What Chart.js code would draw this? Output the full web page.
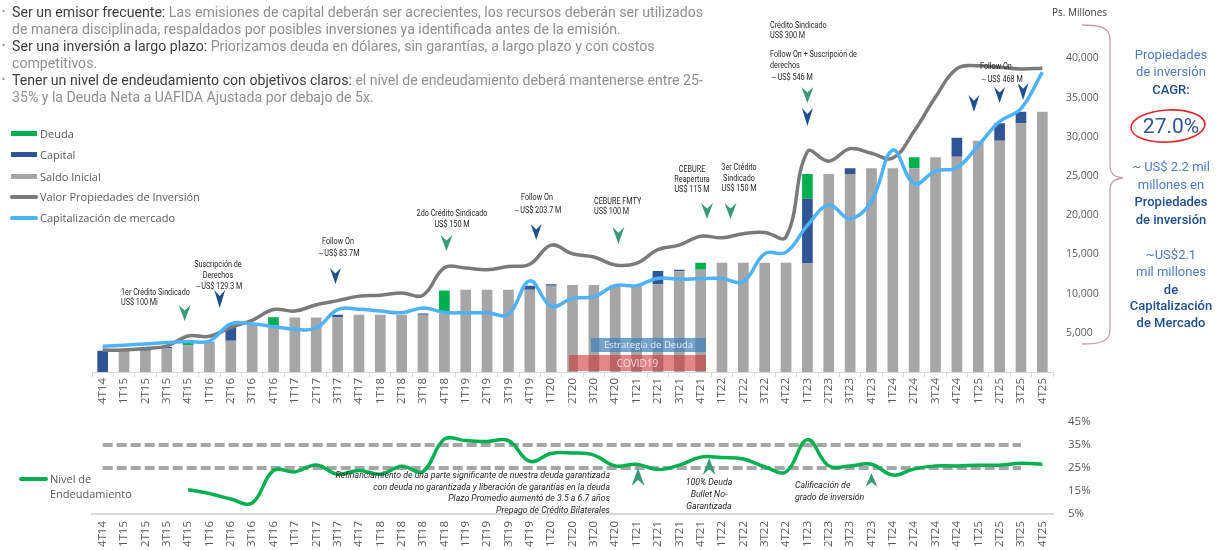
<!DOCTYPE html>
<html><head><meta charset="utf-8">
<script src="https://cdn.jsdelivr.net/npm/chart.js@4.4.1/dist/chart.umd.min.js"></script>
<style>
html,body{margin:0;padding:0;background:#fff;}
#wrap{position:relative;width:1220px;height:550px;overflow:hidden;font-family:'Open Sans',sans-serif;}
canvas{position:absolute;left:0;}
#cTop{top:0;}
#cBot{top:400px;}
.abs{position:absolute;white-space:nowrap;}
.tl{position:absolute;left:12px;font:14px Roboto,sans-serif;color:#8f8f8f;white-space:nowrap;transform-origin:0 50%;line-height:16px;}
.tl span{color:#3d3d3d;}
.bul{position:absolute;left:2px;font:10px Roboto,sans-serif;color:#8f8f8f;line-height:16px;}
.leg{position:absolute;left:40px;font:11px 'Open Sans',sans-serif;color:#595959;line-height:14px;white-space:nowrap;}
.sw{position:absolute;left:11px;width:26px;height:5px;}
.swl{position:absolute;left:10px;width:28px;height:4px;border-radius:2px;}
.ann{font:8.5px Roboto,sans-serif;color:#262626;}
.annb{font:italic 9px Roboto,sans-serif;color:#262626;}
.rp{position:absolute;left:1111px;width:120px;text-align:center;font:13px Roboto,sans-serif;white-space:nowrap;line-height:17px;}
.lt{color:#4a7cc0;}
.dk{color:#1f4e8c;font-weight:500;}
</style></head>
<body><div id="wrap">
<canvas id="cTop" width="1110" height="412"></canvas>
<canvas id="cBot" width="1110" height="150"></canvas>

<div class="bul" style="top:4px">&#8226;</div>
<div class="tl" style="top:4px"><span>Ser un emisor frecuente:</span> Las emisiones de capital deberán ser acrecientes, los recursos deberán ser utilizados</div>
<div class="tl" style="top:21px">de manera disciplinada, respaldados por posibles inversiones ya identificada antes de la emisión.</div>
<div class="bul" style="top:38px">&#8226;</div>
<div class="tl" style="top:38px"><span>Ser una inversión a largo plazo:</span> Priorizamos deuda en dólares, sin garantías, a largo plazo y con costos</div>
<div class="tl" style="top:55px">competitivos.</div>
<div class="bul" style="top:72px">&#8226;</div>
<div class="tl" style="top:72px"><span>Tener un nivel de endeudamiento con objetivos claros:</span> el nivel de endeudamiento deberá mantenerse entre 25-</div>
<div class="tl" style="top:89px">35% y la Deuda Neta a UAFIDA Ajustada por debajo de 5x.</div>

<div class="sw" style="top:131px;background:#00b050"></div><div class="leg" style="top:127px">Deuda</div>
<div class="sw" style="top:152px;background:#2f5597"></div><div class="leg" style="top:148px">Capital</div>
<div class="sw" style="top:174px;background:#a6a6a6"></div><div class="leg" style="top:169.5px">Saldo Inicial</div>
<div class="swl" style="top:195px;background:#7a7a7a"></div><div class="leg" style="top:190px">Valor Propiedades de Inversión</div>
<div class="swl" style="top:216px;background:#4db2f7"></div><div class="leg" style="top:211px">Capitalización de mercado</div>

<div class="abs" style="left:1052px;top:5px;font:10px 'Open Sans',sans-serif;color:#404040">Ps. Millones</div>

<div class="abs" style="left:591px;top:338px;width:115px;height:14px;background:rgba(62,128,186,0.72);color:#e6eef6;font:9.5px 'Open Sans',sans-serif;text-align:center;line-height:14px">Estrategia de Deuda</div>
<div class="abs" style="left:569px;top:355px;width:137px;height:16px;background:rgba(205,55,55,0.6);color:#f7dede;font:10px 'Open Sans',sans-serif;text-align:center;line-height:16px">COVID19</div>

<svg class="abs" style="left:0;top:0" width="1220" height="550">
<path d="M1082,25 C1100,25 1110,27 1110,40 L1110,165 C1110,174 1114,177 1123,178 C1114,179 1110,182 1110,191 L1110,330 C1110,342 1100,344 1082,344" fill="none" stroke="#c4a3ab" stroke-width="1.3"/>
<ellipse cx="1168" cy="126" rx="37" ry="16" fill="none" stroke="#e3262b" stroke-width="1.6" transform="rotate(-3 1168 126)"/>
</svg>

<div class="rp lt" style="top:46px">Propiedades</div>
<div class="rp lt" style="top:63px">de inversión</div>
<div class="rp dk" style="top:81px">CAGR:</div>
<div class="rp" style="top:112px;font-size:21px;line-height:28px;color:#2f5597">27.0%</div>
<div class="rp lt" style="top:158px">~ US$ 2.2 mil</div>
<div class="rp lt" style="top:176px">millones en</div>
<div class="rp dk" style="top:193px">Propiedades</div>
<div class="rp dk" style="top:211px">de inversión</div>
<div class="rp lt" style="top:246px">~US$2.1</div>
<div class="rp lt" style="top:263px">mil millones</div>
<div class="rp dk" style="top:281px">de</div>
<div class="rp dk" style="top:297px">Capitalización</div>
<div class="rp dk" style="top:314px">de Mercado</div>

<div class="swl" style="left:19px;top:477px;width:29px;height:4px;background:#00b050"></div>
<div class="leg" style="left:50px;top:472px">Nivel de</div>
<div class="leg" style="left:50px;top:487px">Endeudamiento</div>
</div>

<script>
// ---------- DATA ----------
const categories = ['4T14','1T15','2T15','3T15','4T15','1T16','2T16','3T16','4T16','1T17','2T17','3T17','4T17','1T18','2T18','3T18','4T18','1T19','2T19','3T19','4T19','1T20','2T20','3T20','4T20','1T21','2T21','3T21','4T21','1T22','2T22','3T22','4T22','1T23','2T23','3T23','4T23','1T24','2T24','3T24','4T24','1T25','2T25','3T25','4T25'];
const saldoInicial = [0,2800,2700,3000,3400,3900,4000,6150,6000,6950,6950,7000,7300,7300,7300,7300,7500,10500,10500,10500,10500,11000,11100,11100,11100,11100,11200,12850,13050,13950,13950,13950,13950,13900,25250,25250,26000,26000,26000,27400,27450,29500,29500,31750,33200];
const capital = [2700,0,200,200,0,0,2000,0,0,0,0,300,0,0,0,150,0,0,0,0,500,200,0,0,0,0,1700,200,0,0,0,0,0,8200,0,750,0,0,0,0,2450,0,2250,1450,0];
const deuda = [0,0,0,0,500,0,0,0,1000,0,0,0,0,0,0,0,2900,0,0,0,0,0,0,0,0,0,0,0,900,0,0,0,0,3150,0,0,0,0,1400,0,0,0,0,0,0];
const valorPropiedades = [2800,2800,3000,3300,4600,4550,5700,6600,7970,7770,8580,9110,9680,9800,10090,9800,13300,13260,13050,13450,13750,16190,15090,14680,13660,13870,15620,16190,17320,17120,17650,17810,17240,28100,26900,28500,27900,27300,30740,35100,38700,39080,38880,38670,38760];
const capitalizacion = [3300,3420,3580,3750,3900,3950,6140,6140,5800,5450,5610,7970,8000,7770,7560,8170,7600,7560,7560,7360,11630,8380,9390,9600,11020,11020,11960,11830,11920,11920,11550,15090,15290,18700,21300,19560,21800,28300,24030,25650,26070,28900,31960,33590,38270];
const endeudamiento = [null,null,null,null,15.5,13.9,11.5,9.8,23.9,23.3,26.3,22.3,23.9,22.3,25.7,23.5,37.5,36.9,36.5,36.9,27.9,31.3,31.5,30.6,25.9,26.6,24.3,26.2,29.7,29.5,28.9,25.5,23.3,37.3,25.9,25.9,26.6,21.9,24.6,25.9,25.9,26.2,26.2,27.0,26.6];
const limiteSuperior = [35,35,35,35,35,35,35,35,35,35,35,35,35,35,35,35,35,35,35,35,35,35,35,35,35,35,35,35,35,35,35,35,35,35,35,35,35,35,35,35,35,35,35,35,null];
const limiteInferior = [25,25,25,25,25,25,25,25,25,25,25,25,25,25,25,25,25,25,25,25,25,25,25,25,25,25,25,25,25,25,25,25,25,25,25,25,25,25,25,25,25,25,25,25,null];
const ticksMillones = [5000,10000,15000,20000,25000,30000,35000,40000];
const ticksPct = [5,15,25,35,45];

// ---------- fit the top paragraph width ----------
(function(){
  const lines = document.querySelectorAll('.tl');
  const w0 = lines[0].getBoundingClientRect().width;
  const s = 691 / w0;
  lines.forEach(l => l.style.transform = 'scaleX(' + s + ')');
})();

// ---------- annotation texts ----------
const wrap = document.getElementById('wrap');
function lbl(lines, x, top, align, lh, cls, sx){
  const d = document.createElement('div');
  d.className = 'abs ' + cls;
  d.style.left = x + 'px'; d.style.top = top + 'px';
  d.style.lineHeight = lh + 'px';
  d.style.textAlign = align === 'l' ? 'left' : (align === 'c' ? 'center' : 'right');
  d.innerHTML = lines.join('<br>');
  if (align === 'l') { d.style.transformOrigin = '0 0'; d.style.transform = 'scaleX(' + sx + ')'; }
  else if (align === 'c') { d.style.transformOrigin = '50% 0'; d.style.transform = 'translateX(-50%) scaleX(' + sx + ')'; }
  else { d.style.transformOrigin = '100% 0'; d.style.transform = 'translateX(-100%) scaleX(' + sx + ')'; }
  wrap.appendChild(d);
}
const S = 0.85;
lbl(['1er Crédito Sindicado','US$ 100 Mi'], 121, 286.5, 'l', 10, 'ann', S);
lbl(['Suscripción de','Derechos','～US$ 129.3 M'], 218, 258.5, 'c', 11, 'ann', S);
lbl(['Follow On','～US$ 83.7M'], 338, 235, 'c', 12, 'ann', S);
lbl(['2do Crédito Sindicado','US$ 150 M'], 452, 208, 'c', 10.5, 'ann', S);
lbl(['Follow On','～US$ 203.7 M'], 537, 191, 'c', 12.5, 'ann', S);
lbl(['CEBURE FMTY','US$ 100 M'], 594, 195.5, 'l', 10.5, 'ann', S);
lbl(['CEBURE','Reapertura','US$ 115 M'], 692, 164, 'c', 10, 'ann', S);
lbl(['3er Crédito','Sindicado','US$ 150 M'], 739, 162, 'c', 10.5, 'ann', S);
lbl(['Crédito Sindicado','US$ 300 M'], 770, 19.5, 'l', 10, 'ann', S);
lbl(['Follow On + Suscripción de','derechos','～US$ 546 M'], 770, 48.5, 'l', 11.5, 'ann', S);
lbl(['Follow On','～US$ 468 M'], 980, 59.5, 'l', 13, 'ann', S);
lbl(['Refinanciamiento de una parte significante de nuestra deuda garantizada','con deuda no garantizada y liberación de garantías en la deuda','Plazo Promedio aumentó de 3.5 a 6.7 años','Prepago de Crédito Bilaterales'], 610, 470, 'r', 11.5, 'annb', 0.97);
lbl(['100% Deuda','Bullet No-','Garantizada'], 709, 475.5, 'c', 12, 'annb', 0.97);
lbl(['Calificación de','grado de inversión'], 795, 480, 'l', 11.7, 'annb', 0.97);

// ---------- chevrons ----------
const GREEN_CH = '#3a9a78', BLUE_CH = '#1f4e8c';
function chev(ctx, x, y0, h, w, dir, color){
  ctx.beginPath();
  ctx.moveTo(x - w/2, y0);
  ctx.lineTo(x, y0 + dir*h*0.34);
  ctx.lineTo(x + w/2, y0);
  ctx.lineTo(x, y0 + dir*h);
  ctx.closePath();
  ctx.fillStyle = color; ctx.fill();
}
function chevronPlugin(id, list, offsetY){
  return { id, afterDatasetsDraw(chart){
    const xs = chart.scales.x, ctx = chart.ctx;
    const p0 = xs.getPixelForValue(0), step = xs.getPixelForValue(1) - p0;
    ctx.save();
    list.forEach(c => chev(ctx, p0 + c.f*step, c.y - offsetY, c.h, c.w, c.d, c.c));
    ctx.restore();
  }};
}
const topChevrons = [
  {f:3.84,y:305,h:16,w:12,d:1,c:GREEN_CH},
  {f:5.48,y:290,h:18,w:11,d:1,c:BLUE_CH},
  {f:10.9,y:268,h:16,w:11,d:1,c:BLUE_CH},
  {f:16.1,y:235,h:16,w:12,d:1,c:GREEN_CH},
  {f:20.3,y:224,h:16,w:11,d:1,c:BLUE_CH},
  {f:24.15,y:227,h:17,w:12,d:1,c:GREEN_CH},
  {f:28.3,y:203,h:16,w:12,d:1,c:GREEN_CH},
  {f:29.4,y:203,h:16,w:12,d:1,c:GREEN_CH},
  {f:33,y:87,h:16,w:12,d:1,c:GREEN_CH},
  {f:33,y:108,h:18,w:11,d:1,c:BLUE_CH},
  {f:40.8,y:95,h:17,w:11,d:1,c:BLUE_CH},
  {f:42,y:87,h:16,w:11,d:1,c:BLUE_CH},
  {f:43.1,y:83,h:17,w:11,d:1,c:BLUE_CH}
];
const botChevrons = [
  {f:25.07,y:486,h:18,w:13,d:-1,c:GREEN_CH},
  {f:28.4,y:475,h:17,w:13,d:-1,c:GREEN_CH},
  {f:36.0,y:487,h:14,w:12,d:-1,c:GREEN_CH}
];

Chart.defaults.font.family = "'Open Sans', sans-serif";
Chart.defaults.color = '#595959';

const tickFont = {size:11.5, family:"'Open Sans', sans-serif"};

new Chart(document.getElementById('cTop'), {
  type: 'bar',
  data: { labels: categories, datasets: [
    {type:'line', label:'Capitalización de mercado', data:capitalizacion, borderColor:'#4db2f7', borderWidth:3.5, tension:0.4, pointRadius:0, stack:'c', order:0},
    {type:'line', label:'Valor Propiedades de Inversión', data:valorPropiedades, borderColor:'#7a7a7a', borderWidth:3.5, tension:0.4, pointRadius:0, stack:'v', order:1},
    {label:'Saldo Inicial', data:saldoInicial, backgroundColor:'#a6a6a6', stack:'s', order:5, barPercentage:0.5, categoryPercentage:1},
    {label:'Capital', data:capital, backgroundColor:'#2f5597', stack:'s', order:5, barPercentage:0.5, categoryPercentage:1},
    {label:'Deuda', data:deuda, backgroundColor:'#00b050', stack:'s', order:5, barPercentage:0.5, categoryPercentage:1}
  ]},
  options: {
    responsive:false, animation:false, maintainAspectRatio:false,
    layout:{padding:{left:92, top:4, right:0, bottom:0}},
    plugins:{legend:{display:false}, tooltip:{enabled:false}},
    scales:{
      x:{stacked:true, offset:true,
         grid:{offset:true, drawOnChartArea:false, drawTicks:true, tickLength:5, color:'#d9d9d9'},
         border:{color:'#d9d9d9', width:1},
         ticks:{minRotation:90, maxRotation:90, autoSkip:false, font:tickFont, color:'#595959', padding:1},
         afterFit(s){ s.height = 40; }},
      y:{position:'right', stacked:true, min:0, max:45000,
         afterBuildTicks(s){ s.ticks = ticksMillones.map(v => ({value:v})); },
         ticks:{font:{size:10.5}, color:'#595959', padding:13, callback:v => v.toLocaleString('en-US')},
         grid:{display:false, drawTicks:false}, border:{display:false},
         afterFit(s){ s.width = 57; }}
    }
  },
  plugins:[chevronPlugin('chevTop', topChevrons, 0)]
});

new Chart(document.getElementById('cBot'), {
  type: 'line',
  data: { labels: categories, datasets: [
    {label:'Nivel de Endeudamiento', data:endeudamiento, borderColor:'#00b050', borderWidth:3.5, tension:0.4, pointRadius:0, order:0},
    {label:'35%', data:limiteSuperior, borderColor:'#a6a6a6', borderWidth:4, borderDash:[10,4], pointRadius:0, order:1},
    {label:'25%', data:limiteInferior, borderColor:'#a6a6a6', borderWidth:4, borderDash:[10,4], pointRadius:0, order:1}
  ]},
  options: {
    responsive:false, animation:false, maintainAspectRatio:false,
    layout:{padding:{left:92, top:14, right:0, bottom:0}},
    plugins:{legend:{display:false}, tooltip:{enabled:false}},
    scales:{
      x:{offset:true,
         grid:{display:false, drawTicks:false},
         border:{display:true, color:'#d9d9d9', width:2},
         ticks:{minRotation:90, maxRotation:90, autoSkip:false, font:tickFont, color:'#595959', padding:7},
         afterFit(s){ s.height = 36; }},
      y:{position:'right', min:5, max:45,
         afterBuildTicks(s){ s.ticks = ticksPct.map(v => ({value:v})); },
         ticks:{font:{size:11.5}, color:'#595959', padding:15, callback:v => v + '%'},
         grid:{display:false, drawTicks:false}, border:{display:false},
         afterFit(s){ s.width = 57; }}
    }
  },
  plugins:[chevronPlugin('chevBot', botChevrons, 400)]
});
</script>
</body></html>
